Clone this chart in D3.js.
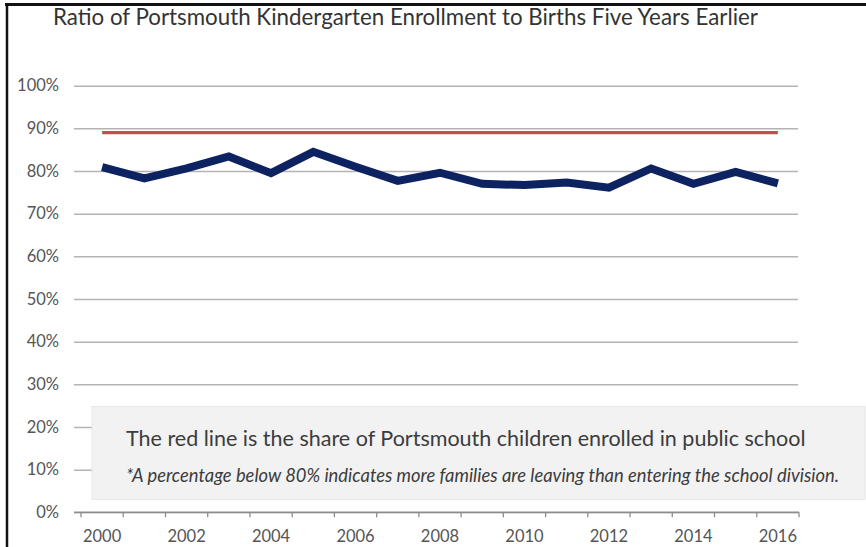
<!DOCTYPE html>
<html>
<head>
<meta charset="utf-8">
<script src="https://cdn.jsdelivr.net/npm/d3@7"></script>
<style>
  body { margin: 0; background: #fff; }
  svg { display: block; }
  text { font-family: Lato, "Open Sans", sans-serif; }
</style>
</head>
<body>
<div id="chart"></div>
<script>
// Data
const years = [2000, 2001, 2002, 2003, 2004, 2005, 2006, 2007, 2008,
               2009, 2010, 2011, 2012, 2013, 2014, 2015, 2016];
const ratio = [80.9, 78.3, 80.6, 83.4, 79.5, 84.5, 81.0, 77.7, 79.6,
               77.0, 76.7, 77.3, 76.1, 80.6, 77.0, 79.8, 77.1];
const publicShare = 89.0;
const yTicks = [0, 10, 20, 30, 40, 50, 60, 70, 80, 90, 100];
const xLabels = [2000, 2002, 2004, 2006, 2008, 2010, 2012, 2014, 2016];
const titleText = "Ratio of Portsmouth Kindergarten Enrollment to Births Five Years Earlier";
const noteText = "The red line is the share of Portsmouth children enrolled in public school";
const footText = "*A percentage below 80% indicates more families are leaving than entering the school division.";

const W = 866, H = 547;

const svg = d3.select("#chart").append("svg")
    .attr("width", W)
    .attr("height", H);

// scales
const x = d3.scaleBand().domain(years).range([81, 799]).padding(0);
const y = d3.scaleLinear().domain([0, 100]).range([512.3, 85.7]);

// scale a text's font size so it spans a given width
function fitWidth(sel, target) {
    const node = sel.node();
    const fs = parseFloat(sel.attr("font-size"));
    const w = node.getComputedTextLength();
    sel.attr("font-size", (fs * target / w).toFixed(2));
}

// frame edges (top and left)
svg.append("line")
    .attr("x1", 5).attr("x2", W).attr("y1", 4.5).attr("y2", 4.5)
    .attr("stroke", "#111").attr("stroke-width", 3);
svg.append("line")
    .attr("x1", 7).attr("x2", 7).attr("y1", 3).attr("y2", H)
    .attr("stroke", "#111").attr("stroke-width", 2.5);

// title
const title = svg.append("text")
    .attr("x", 53).attr("y", 24.5)
    .attr("font-size", 18)
    .attr("fill", "#333")
    .text(titleText);
fitWidth(title, 705);

// y gridlines + labels
const yAxis = d3.axisLeft(y)
    .tickValues(yTicks)
    .tickSize(-(798 - 74))
    .tickPadding(15)
    .tickFormat(d => d + "%");

const gy = svg.append("g")
    .attr("transform", "translate(74,0)")
    .call(yAxis);
gy.select(".domain").remove();
gy.selectAll(".tick line")
    .attr("stroke", "#b4b4b4")
    .attr("stroke-width", 1.5);
gy.selectAll(".tick text")
    .attr("font-size", 16.5)
    .attr("fill", "#555")
    .attr("font-family", "Lato, sans-serif");

// annotation box (covers lower gridlines)
const box = svg.append("g");
box.append("rect")
    .attr("x", 92).attr("y", 406.5)
    .attr("width", 773).attr("height", 93)
    .attr("fill", "#f2f2f2")
    .attr("stroke", "#e8e8e8")
    .attr("stroke-width", 1);
const note = box.append("text")
    .attr("x", 126).attr("y", 445.5)
    .attr("font-size", 17)
    .attr("fill", "#3c3c3c")
    .text(noteText);
fitWidth(note, 680);
const foot = box.append("text")
    .attr("x", 126).attr("y", 482)
    .attr("font-size", 13)
    .attr("font-style", "italic")
    .attr("fill", "#3c3c3c")
    .text(footText);
fitWidth(foot, 713);

// x axis: line, boundary ticks, labels at band centres
const gx = svg.append("g");
gx.append("line")
    .attr("x1", 74).attr("x2", x.range()[1])
    .attr("y1", y(0)).attr("y2", y(0))
    .attr("stroke", "#8c8c8c").attr("stroke-width", 1.5);
const bounds = years.map(d => x(d)).concat([x.range()[1]]);
gx.selectAll(".xtick")
    .data(bounds)
    .join("line")
    .attr("class", "xtick")
    .attr("x1", d => d).attr("x2", d => d)
    .attr("y1", y(0)).attr("y2", y(0) + 5)
    .attr("stroke", "#8c8c8c").attr("stroke-width", 1.3);
gx.selectAll(".xlabel")
    .data(xLabels)
    .join("text")
    .attr("class", "xlabel")
    .attr("x", d => x(d) + x.bandwidth() / 2)
    .attr("y", 542)
    .attr("text-anchor", "middle")
    .attr("font-size", 16.5)
    .attr("fill", "#555")
    .text(d => d);

// red reference line
const first = years[0], last = years[years.length - 1];
svg.append("line")
    .attr("x1", x(first) + x.bandwidth() / 2)
    .attr("x2", x(last) + x.bandwidth() / 2)
    .attr("y1", y(publicShare)).attr("y2", y(publicShare))
    .attr("stroke", "#c0504d")
    .attr("stroke-width", 3.2);

// ratio line
const line = d3.line()
    .x((d, i) => x(years[i]) + x.bandwidth() / 2)
    .y(d => y(d));

svg.append("path")
    .datum(ratio)
    .attr("fill", "none")
    .attr("stroke", "#0d2260")
    .attr("stroke-width", 8)
    .attr("stroke-linejoin", "miter")
    .attr("d", line);
</script>
</body>
</html>
